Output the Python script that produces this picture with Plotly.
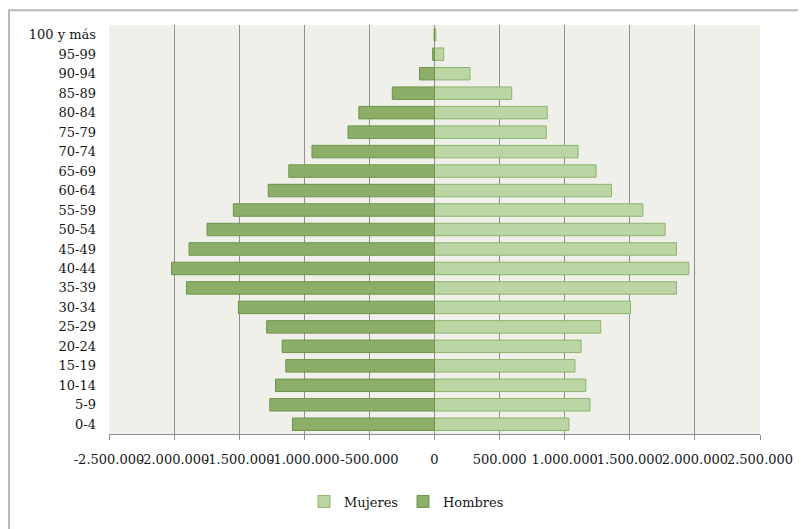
import plotly.graph_objects as go

categories = ["0-4", "5-9", "10-14", "15-19", "20-24", "25-29", "30-34", "35-39",
              "40-44", "45-49", "50-54", "55-59", "60-64", "65-69", "70-74",
              "75-79", "80-84", "85-89", "90-94", "95-99", "100 y más"]

mujeres = [1032000, 1194000, 1162000, 1079000, 1126000, 1277000, 1506000, 1858000,
           1953000, 1858000, 1771000, 1601000, 1360000, 1241000, 1103000,
           858000, 866000, 593000, 273000, 71000, 10000]

hombres = [-1091000, -1265000, -1221000, -1142000, -1170000, -1289000, -1506000, -1905000,
           -2020000, -1885000, -1747000, -1545000, -1277000, -1119000, -941000,
           -664000, -581000, -324000, -115000, -14000, -3000]

tick_values = [-2500000, -2000000, -1500000, -1000000, -500000, 0,
               500000, 1000000, 1500000, 2000000, 2500000]
tick_labels = ["-2.500.000", "-2.000.000", "-1.500.000", "-1.000.000", "-500.000", "0",
               "500.000", "1.000.000", "1.500.000", "2.000.000", "2.500.000"]

FONT = "DejaVu Serif"
TEXT = "#161616"

fig = go.Figure()
fig.add_trace(go.Bar(
    y=categories, x=mujeres, orientation="h", name="Mujeres",
    marker=dict(color="#bcd5a5", line=dict(color="#8db46c", width=1)),
))
fig.add_trace(go.Bar(
    y=categories, x=hombres, orientation="h", name="Hombres",
    marker=dict(color="#8cae68", line=dict(color="#6f9449", width=1)),
))

fig.update_layout(
    width=798, height=521,
    margin=dict(l=101, r=46, t=17, b=76),
    barmode="overlay",
    bargap=0.36,
    paper_bgcolor="white",
    plot_bgcolor="#eef0e9",
    font=dict(family=FONT, size=13, color=TEXT),
    legend=dict(orientation="h", x=0.457, xanchor="center", y=-0.165, yanchor="middle",
                font=dict(family=FONT, size=13, color=TEXT),
                itemwidth=30, tracegroupgap=0),
    xaxis=dict(
        range=[-2500000, 2500000],
        tickvals=tick_values, ticktext=tick_labels,
        tickangle=0, automargin=False,
        showgrid=True, gridcolor="#8f8f8f", gridwidth=1,
        zeroline=True, zerolinecolor="#8f8f8f", zerolinewidth=1,
        showline=True, linecolor="#8f8f8f", linewidth=1,
        ticks="outside", ticklen=5, tickcolor="#8f8f8f",
        tickfont=dict(family=FONT, size=13, color=TEXT),
        ticklabelstandoff=8,
        fixedrange=True,
    ),
    yaxis=dict(
        showgrid=False, zeroline=False, showline=False,
        automargin=False,
        tickfont=dict(family=FONT, size=13, color=TEXT),
        ticklabelstandoff=12,
        fixedrange=True,
    ),
    shapes=[dict(type="rect", xref="paper", yref="paper",
                 x0=-0.1536, x1=1.3, y0=-0.6, y1=1.036,
                 line=dict(color="#b8b8b8", width=2), layer="below")],
)

fig.write_html("out.html")
